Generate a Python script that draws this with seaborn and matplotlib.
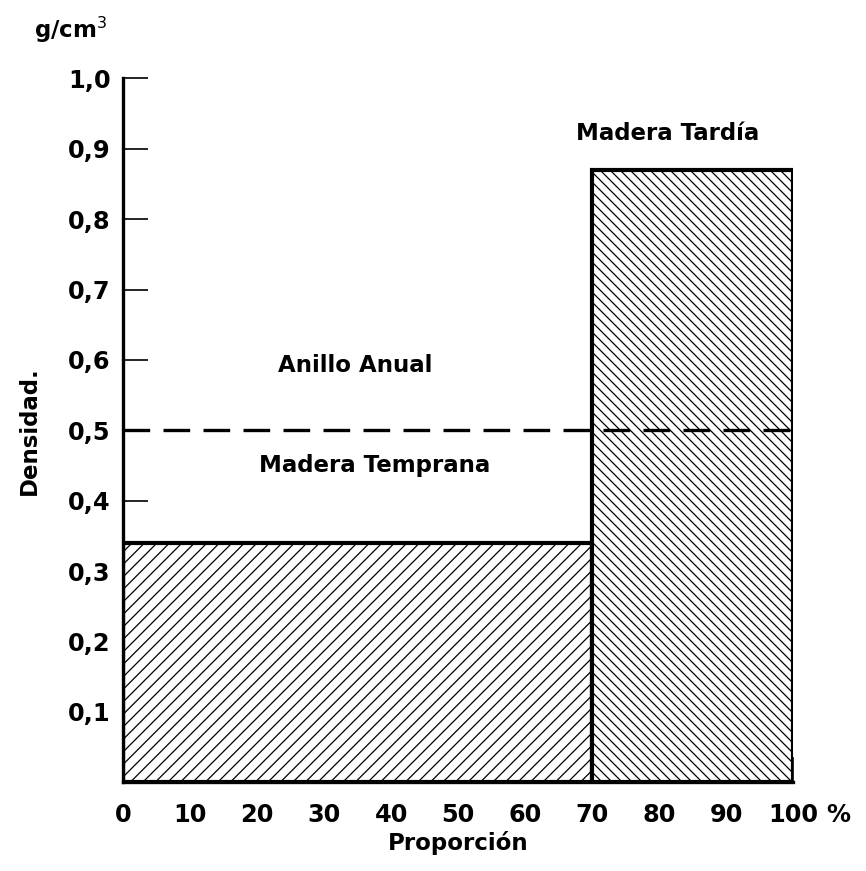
import matplotlib
matplotlib.use("Agg")
import matplotlib.pyplot as plt
import seaborn as sns
import numpy as np

# Data
bin_edges = [0, 70, 100]            # proportion (%) boundaries
zone_names = ["Madera Temprana", "Madera Tardía"]
densities = [0.34, 0.87]            # g/cm3
ring_density = 0.5                  # annual ring mean density
x_ticks = [0, 10, 20, 30, 40, 50, 60, 70, 80, 90, 100]
x_ticklabels = ["0", "10", "20", "30", "40", "50", "60", "70", "80", "90", "100"]
y_ticks = [0.1, 0.2, 0.3, 0.4, 0.5, 0.6, 0.7, 0.8, 0.9, 1.0]
y_ticklabels = ["0,1", "0,2", "0,3", "0,4", "0,5", "0,6", "0,7", "0,8", "0,9", "1,0"]
hatches = ["////", "\\\\\\\\\\"]

sns.set_style("ticks")
plt.rcParams['font.family'] = ['DejaVu Sans']
plt.rcParams['hatch.linewidth'] = 0.6
plt.rcParams['text.color'] = 'black'
plt.rcParams['axes.labelcolor'] = 'black'
plt.rcParams['xtick.color'] = 'black'
plt.rcParams['ytick.color'] = 'black'

fig = plt.figure(figsize=(866/150, 871/150), dpi=150)
ax = fig.add_axes([0.142, 0.102, 0.774, 0.808])

mids = [(a + b) / 2 for a, b in zip(bin_edges[:-1], bin_edges[1:])]
sns.histplot(x=mids, weights=densities, bins=bin_edges, ax=ax,
             color="white", edgecolor="black", linewidth=2.0, alpha=1)
for p, h in zip(ax.patches, hatches):
    p.set_hatch(h)
    p.set_facecolor("white")
    p.set_edgecolor("black")

ax.axhline(ring_density, color="black", lw=1.6, linestyle=(0, (8, 4)), zorder=3)

ax.set_xlim(0, 100)
ax.set_ylim(0, 1.0)
ax.set_xticks(x_ticks)
ax.set_xticklabels(x_ticklabels, fontsize=11.5, fontweight="bold")
ax.set_yticks(y_ticks)
ax.set_yticklabels(y_ticklabels, fontsize=11.5, fontweight="bold")
ax.tick_params(axis="both", direction="in", length=12, width=0.8, color="black")
ax.tick_params(axis="x", pad=10)
ax.tick_params(axis="y", pad=6)
for s in ["top", "right"]:
    ax.spines[s].set_visible(False)
for s in ["left", "bottom"]:
    ax.spines[s].set_linewidth(1.6)
    ax.spines[s].set_color("black")

ax.annotate("%", xy=(100, 0), xycoords=("data", "axes fraction"),
            xytext=(16, -10), textcoords="offset points", ha="left", va="top",
            fontsize=11.5, fontweight="bold")

ax.set_xlabel("Proporción", fontsize=11, fontweight="bold", labelpad=2)
ax.set_ylabel("Densidad.", fontsize=11, fontweight="bold", labelpad=13)

ax.text(34.6, 0.592, "Anillo Anual", ha="center", va="center", fontsize=11, fontweight="bold")
ax.text(37.6, 0.45, zone_names[0], ha="center", va="center", fontsize=11, fontweight="bold")
ax.text(81.3, 0.922, zone_names[1], ha="center", va="center", fontsize=11, fontweight="bold")
fig.text(0.082, 0.966, "g/cm$^3$", ha="center", va="center", fontsize=11, fontweight="bold")

fig.savefig("out.png", dpi=150)
